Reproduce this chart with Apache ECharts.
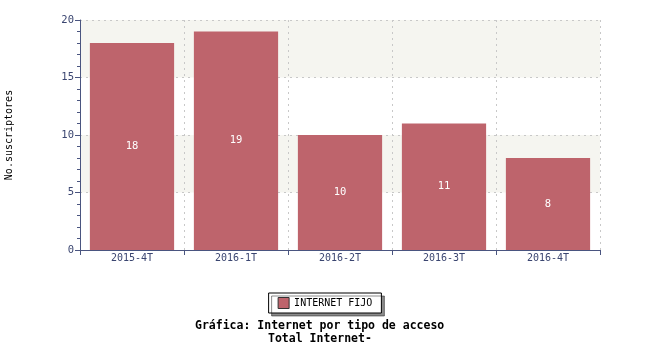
<!DOCTYPE html>
<html><head><meta charset="utf-8">
<script src="https://cdn.jsdelivr.net/npm/echarts@6/dist/echarts.min.js"></script>
<style>html,body{margin:0;padding:0;background:#fff}#c{width:650px;height:350px}</style>
</head><body><div id="c"></div>
<script>
const categories = ["2015-4T", "2016-1T", "2016-2T", "2016-3T", "2016-4T"];
const internetFijo = [18, 19, 10, 11, 8];
const seriesName = "INTERNET FIJO";
const yTicks = [0, 5, 10, 15, 20];
const titleLines = ["Gráfica: Internet por tipo de acceso", "Total Internet-"];
const yAxisName = "No.suscriptores";

const mono = "DejaVu Sans Mono";
const axisColor = "#4a5580";
const titleStyle = {fontFamily: mono, fontSize: 11.5, fontWeight: 'bold', color: '#000'};
const chart = echarts.init(document.getElementById('c'), null, {renderer: 'canvas'});
chart.setOption({
  animation: false,
  backgroundColor: '#fff',
  title: [
    {text: titleLines[0], left: 195, top: 320, padding: 0, textStyle: titleStyle},
    {text: titleLines[1], left: 268, top: 333, padding: 0, textStyle: titleStyle}
  ],
  legend: {
    data: [seriesName],
    icon: 'rect',
    left: 'center', top: 293,
    itemWidth: 11, itemHeight: 11, itemGap: 5,
    padding: [4, 9, 4, 9],
    borderColor: '#000', borderWidth: 1, borderRadius: 0,
    backgroundColor: '#fff',
    shadowColor: 'rgba(0,0,0,0.45)', shadowOffsetX: 3, shadowOffsetY: 3, shadowBlur: 0,
    textStyle: {fontFamily: mono, fontSize: 10, color: '#000'},
    itemStyle: {borderColor: '#333', borderWidth: 1}
  },
  grid: {left: 80, right: 50, top: 20, bottom: 100, containLabel: false, outerBoundsMode: 'none'},
  xAxis: {
    type: 'category', data: categories,
    axisLine: {lineStyle: {color: axisColor, width: 1}},
    axisTick: {show: true, length: 5, lineStyle: {color: axisColor}},
    axisLabel: {fontFamily: mono, fontSize: 10, color: '#3a4570', margin: 3},
    splitLine: {show: true, lineStyle: {color: '#c8c8c8', type: [2, 4]}}
  },
  yAxis: {
    type: 'value', min: yTicks[0], max: yTicks[yTicks.length - 1], interval: 5,
    name: yAxisName, nameLocation: 'middle', nameGap: 66, nameRotate: 90,
    nameTextStyle: {fontFamily: mono, fontSize: 10, color: '#000'},
    axisLine: {show: true, lineStyle: {color: axisColor, width: 1}},
    axisTick: {show: true, length: 5, lineStyle: {color: axisColor}},
    minorTick: {show: true, splitNumber: 5, length: 3, lineStyle: {color: axisColor}},
    axisLabel: {fontFamily: mono, fontSize: 10.5, color: '#3a4570', margin: 6},
    splitLine: {show: true, lineStyle: {color: '#c8c8c8', type: [2, 4]}},
    splitArea: {show: true, areaStyle: {color: ['#ffffff', '#f5f5f0']}}
  },
  series: [{
    name: seriesName, type: 'bar', data: internetFijo,
    barCategoryGap: '19%',
    itemStyle: {color: '#be646c'},
    label: {show: true, position: 'inside', fontFamily: mono, fontSize: 10.5, color: '#fff'}
  }]
});
</script></body></html>
